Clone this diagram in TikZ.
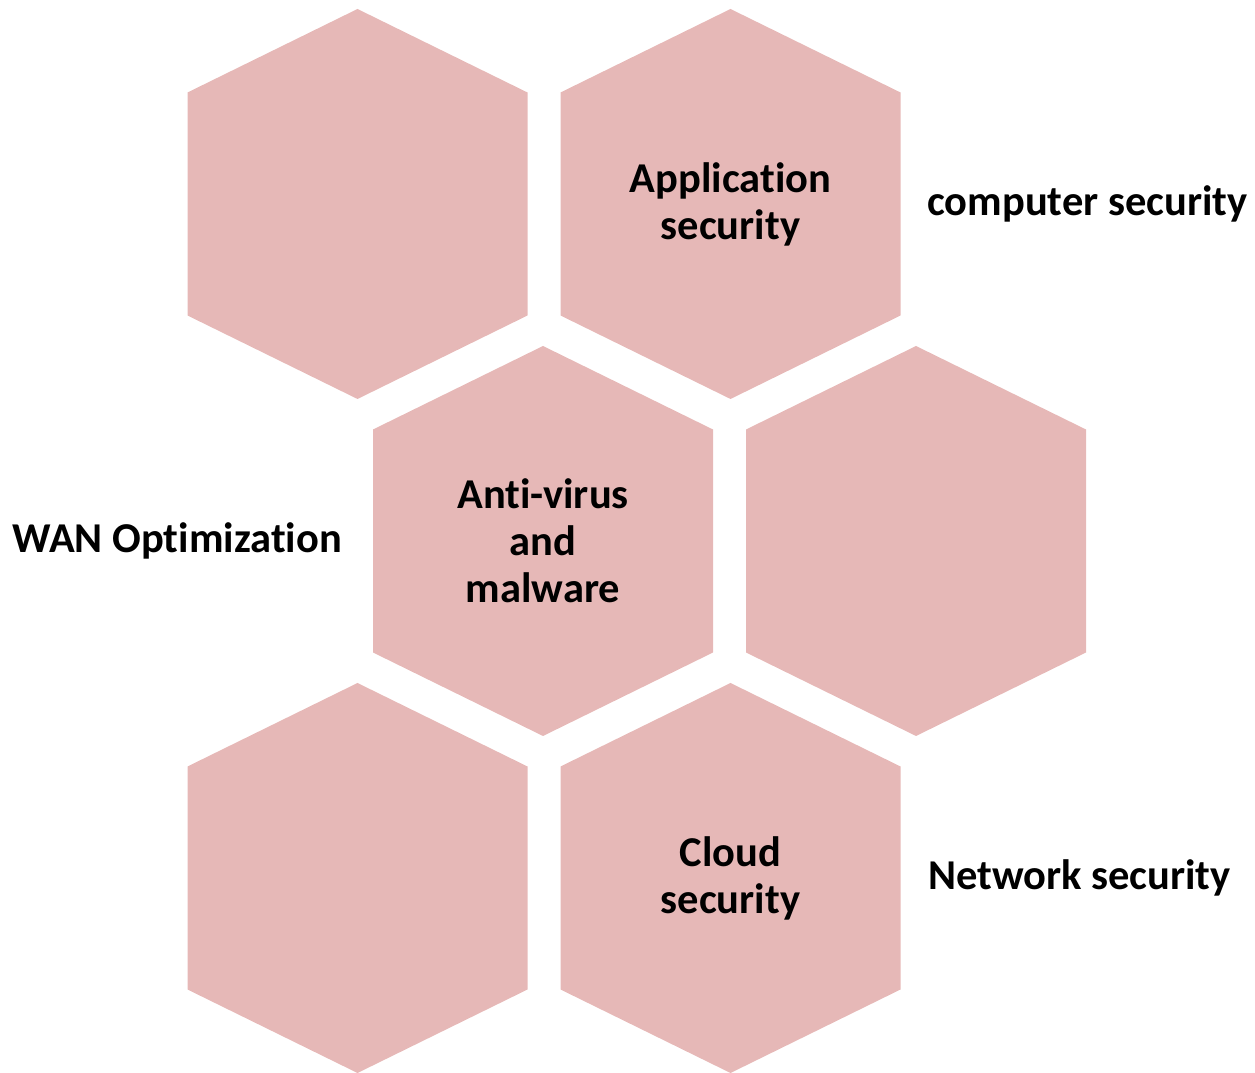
\documentclass[tikz,border=0pt]{standalone}
\usepackage{fontspec}
\setmainfont[Ligatures=NoCommon]{Carlito}
\definecolor{hexfill}{HTML}{E6B8B7}
\newcommand{\nolig}{\kern0pt{}}
\newcommand{\myhex}[3]{%
  \fill[hexfill] (#1pt,#2pt+195pt) -- (#1pt+170pt,#2pt+111.5pt) -- (#1pt+170pt,#2pt-111.5pt)
    -- (#1pt,#2pt-195pt) -- (#1pt-170pt,#2pt-111.5pt) -- (#1pt-170pt,#2pt+111.5pt) -- cycle;
  \node[hextext] (#3) at (#1pt,#2pt) {};}
\begin{document}
\begin{tikzpicture}[
  hextext/.style={font=\fontsize{42.5}{47}\selectfont\bfseries, align=center, inner sep=0pt},
  side/.style={font=\fontsize{42.5}{47}\selectfont\bfseries, anchor=west, inner sep=0pt}]
\useasboundingbox (0,0) rectangle (1255pt,1073pt);
\myhex{357.5}{869}{h1}
\myhex{730.5}{869}{h2}
\myhex{543}{532}{h3}
\myhex{916}{532}{h4}
\myhex{357.5}{195}{h5}
\myhex{730.5}{195}{h6}
\node[hextext] (t2) at (h2) {Applicat\nolig ion\\security};
\node[hextext] (t3) at (h3) {Ant\nolig i-virus\\and\\malware};
\node[hextext] (t6) at (h6) {Cloud\\security};
\node[side] (l1) at (927pt,869pt) {computer security};
\node[side, anchor=east] (l2) at (342pt,532pt) {WAN Opt\nolig imizat\nolig ion};
\node[side] (l3) at (928pt,195pt) {Network security};
\end{tikzpicture}
\end{document}
